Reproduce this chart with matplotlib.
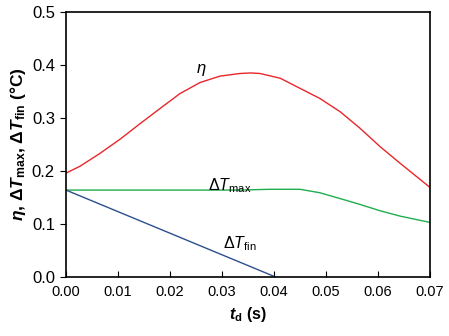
import matplotlib
matplotlib.use("Agg")
import matplotlib.pyplot as plt
import numpy as np

plt.rcParams['font.family'] = ['Liberation Sans', 'DejaVu Sans']
plt.rcParams['mathtext.fontset'] = 'custom'
plt.rcParams['mathtext.rm'] = 'Liberation Sans'
plt.rcParams['mathtext.it'] = 'Liberation Sans:italic'
plt.rcParams['mathtext.bf'] = 'Liberation Sans:bold'
plt.rcParams['mathtext.bfit'] = 'Liberation Sans:bold:italic'

# eta curve
t_eta = [0.0, 0.0027, 0.0065, 0.0104, 0.0142, 0.0181, 0.0219, 0.0258, 0.0296,
         0.0335, 0.0355, 0.0373, 0.0412, 0.045, 0.0488, 0.0527, 0.0565,
         0.0604, 0.0642, 0.07]
eta = [0.196, 0.209, 0.233, 0.260, 0.289, 0.318, 0.346, 0.367, 0.379,
       0.384, 0.385, 0.384, 0.375, 0.356, 0.337, 0.312, 0.281,
       0.246, 0.215, 0.169]

# dT_max curve
t_max = [0.0, 0.01, 0.02, 0.03, 0.0335, 0.0392, 0.045, 0.0488, 0.0527,
         0.0565, 0.0604, 0.0642, 0.07]
dT_max = [0.164, 0.164, 0.164, 0.164, 0.164, 0.1655, 0.1655, 0.159, 0.148,
          0.137, 0.125, 0.115, 0.103]

# dT_fin line
t_fin = [0.0, 0.0403]
dT_fin = [0.164, 0.0]

fig = plt.figure(figsize=(4.49, 3.36), dpi=100)
ax = fig.add_axes([66/449, 59/336, 364/449, 265/336])

ax.plot(t_eta, eta, color='#e8262b', lw=1.0)
ax.plot(t_max, dT_max, color='#1fae4e', lw=1.0)
ax.plot(t_fin, dT_fin, color='#2d4f8e', lw=1.0)

ax.text(0.026, 0.39, r'$\eta$', fontsize=12, ha='center', va='center')
ax.text(0.0315, 0.172, r'$\Delta\mathit{T}_{\mathrm{max}}$', fontsize=11.5, ha='center', va='center')
ax.text(0.0335, 0.063, r'$\Delta\mathit{T}_{\mathrm{fin}}$', fontsize=11.5, ha='center', va='center')

ax.set_xlim(0, 0.07)
ax.set_ylim(0, 0.5)
ax.set_xticks(np.arange(0, 0.071, 0.01))
ax.set_yticks(np.arange(0, 0.51, 0.1))
ax.set_xticklabels(['%.2f' % v for v in np.arange(0, 0.071, 0.01)])
ax.set_yticklabels(['%.1f' % v for v in np.arange(0, 0.51, 0.1)])
ax.tick_params(axis='x', direction='in', length=4, labelsize=10.5, pad=6)
ax.tick_params(axis='y', direction='out', length=4, labelsize=12, pad=4)
for s in ax.spines.values():
    s.set_linewidth(1.2)

ax.set_xlabel(r'$\boldsymbol{t}_{\mathbf{d}}$ (s)', fontsize=11.5, fontweight='bold', labelpad=4)
ax.set_ylabel(r'$\boldsymbol{\eta}$, $\mathbf{\Delta}\boldsymbol{T}_{\mathbf{max}}$, $\mathbf{\Delta}\boldsymbol{T}_{\mathbf{fin}}$ (°C)',
              fontsize=12.5, fontweight='bold', labelpad=3)

fig.savefig('out.png', dpi=100)
